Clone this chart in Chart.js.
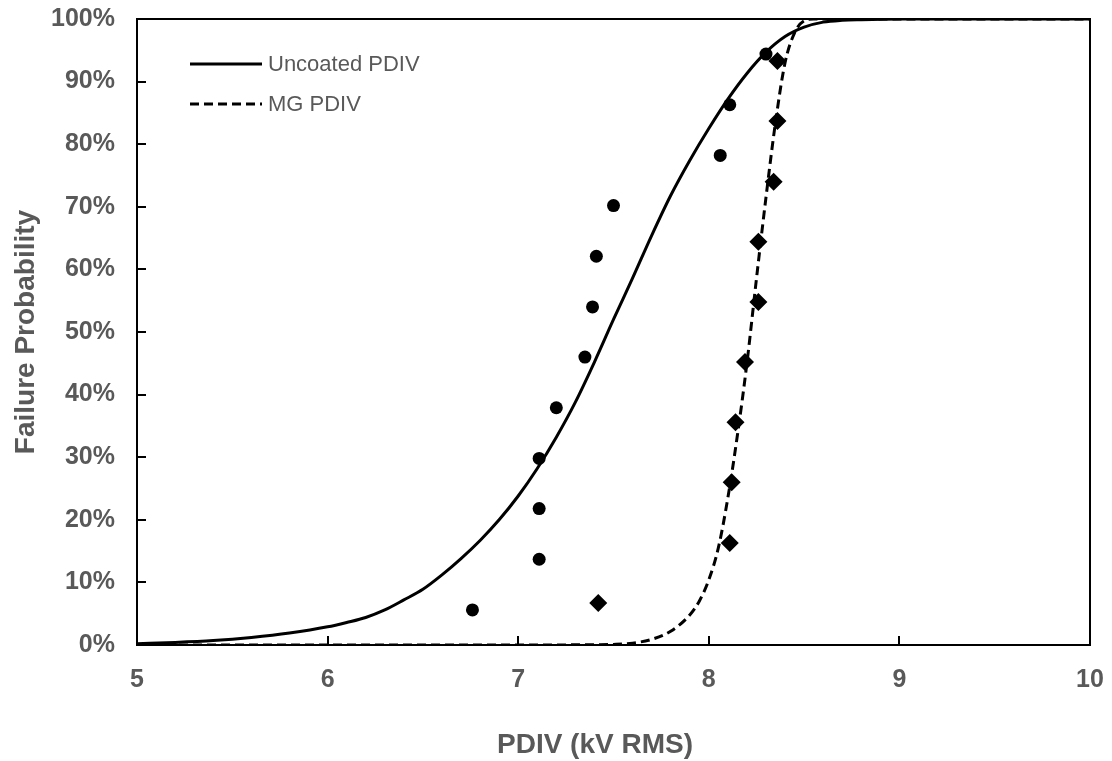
<!DOCTYPE html>
<html>
<head>
<meta charset="utf-8">
<title>PDIV Failure Probability</title>
<script src="https://cdn.jsdelivr.net/npm/chart.js@4.4.1/dist/chart.umd.min.js"></script>
<style>
    html, body { margin: 0; padding: 0; background: #ffffff; }
    #chartWrap { width: 1112px; height: 761px; }
</style>
</head>
<body>
<div id="chartWrap"><canvas id="pdivChart" width="1112" height="761"></canvas></div>
<script>
// measured points (failure probability in %)
const uncoatedX = [6.76, 7.11, 7.11, 7.11, 7.20, 7.35, 7.39, 7.41, 7.50, 8.06, 8.11, 8.30];
const uncoatedY = [5.6, 13.7, 21.8, 29.8, 37.9, 46.0, 54.0, 62.1, 70.2, 78.2, 86.3, 94.4];

const mgX = [7.42, 8.11, 8.12, 8.14, 8.19, 8.26, 8.26, 8.34, 8.36, 8.36];
const mgY = [6.7, 16.3, 26.0, 35.6, 45.2, 54.8, 64.4, 74.0, 83.7, 93.3];

// fitted curves
const uncoatedFitX = [5.0, 5.2, 5.4, 5.6, 5.8, 6.0, 6.1, 6.2, 6.3, 6.4, 6.5, 6.6, 6.7, 6.8, 6.9, 7.0, 7.1, 7.2, 7.3, 7.4,
    7.5, 7.6, 7.7, 7.8, 7.9, 8.0, 8.1, 8.2, 8.3, 8.4, 8.5, 8.6, 8.7, 8.8, 9.0, 9.5, 10.0];
const uncoatedFitY = [0.2, 0.4, 0.7, 1.2, 1.9, 2.9, 3.6, 4.4, 5.6, 7.2, 8.9, 11.2, 13.8, 16.7, 20.0, 23.8, 28.2, 33.2, 38.8, 45.2,
    52.0, 58.6, 65.4, 71.8, 77.4, 82.5, 87.2, 91.3, 94.7, 97.2, 98.7, 99.5, 99.8, 99.9, 100, 100, 100];

const mgFitX = [5.0, 6.0, 7.0, 7.4, 7.5, 7.6, 7.7, 7.8, 7.9, 7.95, 8.0, 8.05, 8.1, 8.15, 8.2, 8.25, 8.3, 8.35, 8.4, 8.45,
    8.5, 8.55, 9.0, 10.0];
const mgFitY = [0, 0, 0, 0.05, 0.1, 0.3, 0.9, 2.2, 4.8, 7.0, 10.4, 15.5, 23.5, 33.5, 45.0, 58.5, 71.5, 83.5, 93.0, 97.8,
    99.7, 100, 100, 100];

const xTicks = [5, 6, 7, 8, 9, 10];
const yTicks = [0, 10, 20, 30, 40, 50, 60, 70, 80, 90, 100];

const legendItems = [
    { label: 'Uncoated PDIV', dash: [] },
    { label: 'MG PDIV', dash: [9, 5] }
];

const X_TITLE = 'PDIV (kV RMS)';
const FONT = "'Liberation Sans', Arial, sans-serif";
const GREY = '#595959';

function toPoints(xs, ys) {
    return xs.map((x, i) => ({ x: x, y: ys[i] }));
}

// box round the plot, inward tick marks, legend inside the plot and the x title
const framePlugin = {
    id: 'frame',
    afterDatasetsDraw(chart) {
        const ctx = chart.ctx;
        const area = chart.chartArea;
        const xs = chart.scales.x;
        const ys = chart.scales.y;

        ctx.save();
        ctx.strokeStyle = '#000';
        ctx.lineWidth = 2;
        ctx.strokeRect(area.left, area.top, area.right - area.left, area.bottom - area.top);

        ctx.beginPath();
        yTicks.forEach(v => {
            const py = Math.round(ys.getPixelForValue(v));
            ctx.moveTo(area.left, py);
            ctx.lineTo(area.left + 9, py);
        });
        xTicks.forEach(v => {
            const px = Math.round(xs.getPixelForValue(v));
            ctx.moveTo(px, area.bottom);
            ctx.lineTo(px, area.bottom - 9);
        });
        ctx.stroke();

        // legend
        ctx.lineWidth = 3;
        ctx.font = '22px ' + FONT;
        ctx.fillStyle = GREY;
        ctx.textBaseline = 'middle';
        legendItems.forEach((item, i) => {
            const y = 64 + i * 40;
            ctx.setLineDash(item.dash);
            ctx.beginPath();
            ctx.moveTo(190, y);
            ctx.lineTo(262, y);
            ctx.stroke();
            ctx.fillText(item.label, 268, y + 1);
        });

        // x axis title sits a bit left of the plot centre in the original
        ctx.font = 'bold 28px ' + FONT;
        ctx.textAlign = 'center';
        ctx.fillText(X_TITLE, 595, 745);
        ctx.restore();
    }
};

document.addEventListener('DOMContentLoaded', function() {
    const ctx = document.getElementById('pdivChart').getContext('2d');

    const config = {
        type: 'scatter',
        data: {
            datasets: [
                {
                    label: 'Uncoated points',
                    data: toPoints(uncoatedX, uncoatedY),
                    pointStyle: 'circle',
                    pointRadius: 6.5,
                    backgroundColor: '#000',
                    borderColor: '#000',
                    borderWidth: 0,
                    order: 1
                },
                {
                    label: 'MG points',
                    data: toPoints(mgX, mgY),
                    pointStyle: 'rectRot',
                    pointRadius: 9,
                    backgroundColor: '#000',
                    borderColor: '#000',
                    borderWidth: 0,
                    order: 2
                },
                {
                    label: 'Uncoated PDIV',
                    data: toPoints(uncoatedFitX, uncoatedFitY),
                    showLine: true,
                    pointRadius: 0,
                    borderColor: '#000',
                    borderWidth: 3,
                    cubicInterpolationMode: 'monotone',
                    order: 3
                },
                {
                    label: 'MG PDIV',
                    data: toPoints(mgFitX, mgFitY),
                    showLine: true,
                    pointRadius: 0,
                    borderColor: '#000',
                    borderWidth: 3,
                    borderDash: [9, 5],
                    cubicInterpolationMode: 'monotone',
                    order: 4
                }
            ]
        },
        options: {
            responsive: false,
            animation: false,
            layout: {
                padding: { top: 19, right: 22, left: 0, bottom: 0 }
            },
            plugins: {
                legend: { display: false },
                tooltip: { enabled: false }
            },
            scales: {
                x: {
                    type: 'linear',
                    min: 5,
                    max: 10,
                    // fixed box, no extra room for the end labels
                    afterFit: s => { s.height = 116; s.paddingLeft = 0; s.paddingRight = 0; },
                    afterBuildTicks: s => { s.ticks = xTicks.map(v => ({ value: v })); },
                    grid: { display: false, drawTicks: false },
                    border: { display: false },
                    ticks: {
                        padding: 20,
                        color: GREY,
                        font: { family: FONT, size: 25, weight: 'bold' }
                    },
                    title: { display: false }
                },
                y: {
                    min: 0,
                    max: 100,
                    afterFit: s => { s.width = 137; s.paddingTop = 0; s.paddingBottom = 0; },
                    afterBuildTicks: s => { s.ticks = yTicks.map(v => ({ value: v })); },
                    grid: { display: false, drawTicks: false },
                    border: { display: false },
                    ticks: {
                        padding: 22,
                        color: GREY,
                        font: { family: FONT, size: 25, weight: 'bold' },
                        callback: v => v + '%'
                    },
                    title: {
                        display: true,
                        text: 'Failure Probability',
                        color: GREY,
                        font: { family: FONT, size: 28, weight: 'bold' },
                        padding: { top: 9, bottom: 0 }
                    }
                }
            }
        },
        plugins: [framePlugin]
    };

    new Chart(ctx, config);
});
</script>
</body>
</html>
